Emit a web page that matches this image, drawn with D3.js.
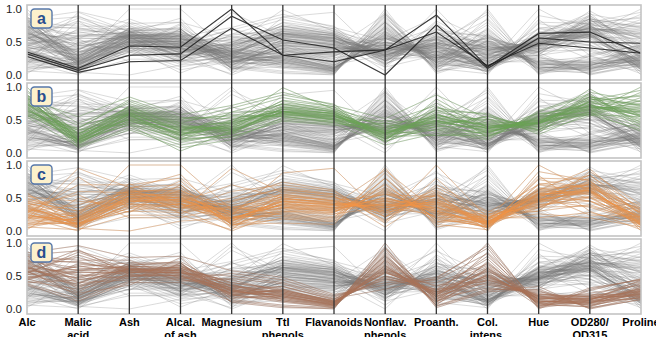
<!DOCTYPE html>
<html><head><meta charset="utf-8">
<script src="https://cdn.jsdelivr.net/npm/d3@7/dist/d3.min.js"></script>
<style>body{margin:0;background:#fff}svg{display:block}</style>
</head><body><svg id="c" width="656" height="337"></svg>
<script>
const dims = ["Alc","Malic acid","Ash","Alcal. of ash","Magnesium","Ttl phenols","Flavanoids","Nonflav. phenols","Proanth.","Col. intens.","Hue","OD280/ OD315","Proline"];
const dimLabels = [["Alc"],["Malic","acid"],["Ash"],["Alcal.","of ash"],["Magnesium"],["Ttl","phenols"],["Flavanoids"],["Nonflav.","phenols"],["Proanth."],["Col.","intens."],["Hue"],["OD280/","OD315"],["Proline"]];
const tickValues = [0, 0.5, 1];
const panelLetters = ["a","b","c","d"];

// class 1 (panel b, green) normalized values
const class1 = [
[0.84,0.19,0.57,0.26,0.62,0.63,0.57,0.28,0.59,0.37,0.46,0.97,0.56],
[0.57,0.21,0.42,0.03,0.33,0.58,0.51,0.25,0.27,0.26,0.46,0.78,0.55],
[0.56,0.32,0.70,0.41,0.34,0.63,0.61,0.32,0.76,0.38,0.45,0.70,0.65],
[0.88,0.24,0.61,0.32,0.46,0.99,0.66,0.21,0.56,0.51,0.31,0.80,0.86],
[0.58,0.37,0.81,0.54,0.52,0.63,0.50,0.49,0.44,0.27,0.46,0.61,0.33],
[0.83,0.20,0.58,0.24,0.46,0.79,0.64,0.40,0.49,0.46,0.46,0.58,0.84],
[0.89,0.22,0.58,0.18,0.29,0.52,0.46,0.32,0.49,0.34,0.44,0.85,0.72],
[0.80,0.28,0.67,0.33,0.55,0.56,0.46,0.34,0.26,0.32,0.47,0.85,0.73],
[1.00,0.18,0.43,0.16,0.30,0.63,0.56,0.30,0.49,0.33,0.49,0.58,0.55],
[0.74,0.12,0.49,0.26,0.30,0.69,0.59,0.17,0.45,0.51,0.43,0.83,0.55],
[0.71,0.15,0.55,0.30,0.42,0.62,0.52,0.26,0.40,0.40,0.50,0.72,0.62],
[0.65,0.24,0.60,0.36,0.38,0.70,0.62,0.30,0.55,0.35,0.52,0.68,0.70],
[0.75,0.30,0.65,0.42,0.36,0.58,0.55,0.36,0.52,0.42,0.41,0.66,0.48],
[0.68,0.16,0.52,0.28,0.44,0.66,0.60,0.22,0.60,0.30,0.56,0.76,0.64],
[0.78,0.26,0.62,0.38,0.40,0.72,0.64,0.28,0.48,0.44,0.40,0.74,0.78],
[0.62,0.22,0.66,0.44,0.33,0.60,0.54,0.38,0.42,0.28,0.55,0.64,0.45],
[0.73,0.42,0.58,0.35,0.48,0.64,0.58,0.30,0.58,0.40,0.38,0.72,0.60],
[0.86,0.14,0.54,0.22,0.36,0.76,0.68,0.24,0.62,0.48,0.44,0.80,0.95],
[0.70,0.20,0.72,0.48,0.58,0.55,0.48,0.42,0.38,0.32,0.48,0.62,0.40],
[0.66,0.27,0.50,0.30,0.32,0.68,0.60,0.20,0.66,0.36,0.60,0.70,0.58],
[0.76,0.18,0.60,0.34,0.50,0.74,0.62,0.26,0.70,0.45,0.42,0.78,0.68],
[0.81,0.23,0.64,0.40,0.37,0.61,0.55,0.34,0.46,0.38,0.50,0.66,0.75],
[0.60,0.17,0.46,0.20,0.28,0.57,0.50,0.28,0.35,0.25,0.58,0.74,0.50],
[0.72,0.34,0.68,0.45,0.45,0.66,0.57,0.44,0.54,0.43,0.36,0.64,0.62],
[0.69,0.13,0.56,0.28,0.40,0.80,0.70,0.18,0.82,0.39,0.47,0.82,0.71],
[0.79,0.21,0.52,0.31,0.35,0.63,0.53,0.31,0.43,0.55,0.39,0.69,0.67],
[0.64,0.29,0.63,0.37,0.47,0.59,0.52,0.36,0.50,0.31,0.53,0.73,0.52],
[0.85,0.16,0.59,0.27,0.43,0.70,0.63,0.23,0.57,0.41,0.45,0.77,0.88],
[0.74,0.25,0.47,0.39,0.31,0.67,0.59,0.29,0.53,0.37,0.49,0.71,0.57],
[0.67,0.19,0.61,0.33,0.39,0.62,0.56,0.33,0.47,0.34,0.51,0.67,0.63],
[0.92,0.45,0.75,0.50,0.68,0.88,0.74,0.15,0.68,0.58,0.35,0.62,1.00],
[0.54,0.10,0.38,0.12,0.25,0.48,0.42,0.45,0.33,0.22,0.62,0.88,0.38],
[0.82,0.55,0.85,0.58,0.72,0.92,0.72,0.52,0.88,0.52,0.33,0.56,0.80],
[0.60,0.35,0.44,0.22,0.24,0.50,0.44,0.12,0.30,0.20,0.64,0.90,0.42],
[0.95,0.28,0.70,0.46,0.62,0.84,0.70,0.38,0.64,0.60,0.28,0.60,0.92],
[0.77,0.08,0.35,0.08,0.20,0.54,0.48,0.22,0.36,0.30,0.54,0.86,0.46],
[0.63,0.38,0.78,0.52,0.56,0.74,0.66,0.46,0.72,0.24,0.60,0.58,0.36],
[0.87,0.30,0.50,0.20,0.50,0.60,0.50,0.18,0.40,0.56,0.34,0.92,0.78]
];
// class 2 (panel c, orange)
const class2 = [
[0.21,0.10,0.47,0.45,0.18,0.45,0.39,0.40,0.36,0.12,0.55,0.62,0.15],
[0.35,0.05,0.36,0.40,0.30,0.38,0.33,0.50,0.30,0.10,0.48,0.58,0.20],
[0.16,0.18,0.55,0.56,0.10,0.50,0.42,0.35,0.45,0.08,0.62,0.70,0.12],
[0.42,0.25,0.50,0.48,0.22,0.30,0.28,0.60,0.25,0.14,0.40,0.45,0.24],
[0.28,0.12,0.44,0.52,0.14,0.42,0.36,0.45,0.40,0.15,0.50,0.66,0.10],
[0.05,0.20,0.60,0.62,0.28,0.52,0.48,0.30,0.50,0.06,0.70,0.60,0.18],
[0.38,0.08,0.40,0.35,0.35,0.48,0.45,0.28,0.42,0.18,0.45,0.72,0.28],
[0.30,0.60,0.58,0.50,0.16,0.36,0.30,0.52,0.28,0.12,0.58,0.55,0.16],
[0.24,0.15,0.52,0.58,0.20,0.40,0.35,0.56,0.32,0.10,0.35,0.64,0.08],
[0.45,0.30,0.62,0.44,0.40,0.55,0.50,0.38,0.55,0.20,0.52,0.74,0.30],
[0.12,0.11,0.30,0.42,0.08,0.34,0.30,0.42,0.22,0.05,0.66,0.50,0.12],
[0.32,0.22,0.48,0.55,0.24,0.44,0.40,0.48,0.38,0.16,0.42,0.68,0.22],
[0.18,0.95,0.66,0.70,0.12,0.28,0.25,0.62,0.20,0.22,0.30,0.40,0.14],
[0.40,0.14,0.56,0.46,0.30,0.62,0.56,0.25,0.60,0.14,0.56,0.80,0.26],
[0.26,0.06,0.42,0.36,0.18,0.46,0.42,0.36,0.44,0.09,0.60,0.60,0.05],
[0.55,0.18,0.46,0.40,0.33,0.38,0.34,0.44,0.34,0.24,0.38,0.52,0.35],
[0.20,0.28,0.58,0.66,0.06,0.32,0.28,0.70,0.18,0.07,0.50,0.46,0.10],
[0.36,0.09,0.38,0.30,0.95,0.58,0.52,0.22,0.48,0.12,0.46,0.76,0.20],
[0.14,0.13,0.52,0.50,0.15,0.48,0.44,0.32,0.46,0.11,0.64,0.70,0.16],
[0.30,0.04,0.00,0.15,0.20,0.40,0.38,0.46,0.30,0.13,0.54,0.62,0.13],
[0.48,0.35,0.54,0.45,0.26,0.50,0.40,0.38,0.40,0.18,0.44,0.65,0.32],
[0.22,0.16,0.62,0.60,0.36,0.52,0.46,0.55,0.52,0.09,0.57,0.58,0.11],
[0.08,0.20,0.46,0.48,0.12,0.42,0.36,0.40,0.36,0.04,0.72,0.66,0.09],
[0.33,0.11,0.50,0.38,0.24,0.88,0.95,0.20,1.00,0.20,0.50,0.85,0.24],
[0.27,0.70,0.70,0.80,0.22,0.22,0.18,0.80,0.15,0.14,0.36,0.38,0.15],
[0.39,0.09,0.45,0.42,0.19,0.40,0.35,0.42,0.36,0.14,0.48,0.60,0.19],
[0.18,0.24,1.00,1.00,0.32,0.45,0.40,0.92,0.30,0.10,0.44,0.52,0.08],
[0.34,0.17,0.48,0.52,0.28,0.34,0.30,0.58,0.26,0.17,0.62,0.56,0.21],
[0.25,0.08,0.40,0.40,0.14,0.54,0.46,0.30,0.54,0.12,0.52,0.72,0.17],
[0.44,0.19,0.56,0.54,0.26,0.36,0.32,0.50,0.32,0.22,0.40,0.50,0.29],
[0.10,0.12,0.34,0.32,0.00,0.30,0.26,0.36,0.24,0.08,0.78,0.64,0.04],
[0.29,0.40,0.60,0.58,0.18,0.44,0.38,0.46,0.42,0.11,0.46,0.62,0.14],
[0.37,0.10,0.52,0.44,0.70,0.50,0.42,0.34,0.62,0.19,0.54,0.70,0.27],
[0.23,0.15,0.44,0.48,0.20,0.26,0.22,0.64,0.20,0.06,0.58,0.45,0.12],
[0.31,0.06,0.50,0.42,0.16,0.46,0.40,0.38,0.48,0.15,1.00,0.60,0.18],
[0.50,0.22,0.58,0.50,0.34,0.56,0.45,0.28,0.44,0.26,0.36,0.66,0.38],
[0.02,0.50,0.28,0.70,0.04,0.20,0.16,0.80,0.10,0.02,0.84,0.30,0.02],
[0.58,0.05,0.72,0.36,0.50,0.74,0.62,0.12,0.70,0.30,0.30,0.90,0.40],
[0.15,0.82,0.34,0.62,0.10,0.12,0.10,0.96,0.06,0.16,0.26,0.20,0.06],
[0.46,0.30,0.66,0.26,0.44,0.66,0.56,0.16,0.66,0.28,0.70,0.84,0.34],
[0.06,0.02,0.24,0.24,0.02,0.60,0.52,0.22,0.58,0.00,0.90,0.76,0.00],
[0.52,0.45,0.40,0.76,0.10,0.18,0.14,0.72,0.12,0.20,0.20,0.28,0.10],
[0.20,0.00,0.56,0.34,0.60,0.70,0.60,0.14,0.80,0.10,0.62,0.94,0.30],
[0.38,0.55,0.20,0.20,0.38,0.24,0.20,0.88,0.14,0.24,0.56,0.24,0.22],
[0.11,0.26,0.64,0.86,0.08,0.36,0.32,0.66,0.28,0.05,0.48,0.36,0.12],
[0.43,0.12,0.30,0.28,0.46,0.64,0.54,0.06,0.56,0.06,0.80,0.78,0.08]
];
// class 3 (panel d, brown)
const class3 = [
[0.71,0.72,0.55,0.56,0.27,0.20,0.06,0.74,0.16,0.52,0.10,0.13,0.24],
[0.59,0.47,0.60,0.58,0.31,0.24,0.10,0.62,0.22,0.48,0.16,0.16,0.28],
[0.48,0.58,0.65,0.62,0.35,0.18,0.08,0.80,0.18,0.62,0.12,0.10,0.22],
[0.65,0.36,0.52,0.50,0.24,0.28,0.12,0.55,0.26,0.44,0.22,0.20,0.30],
[0.55,0.82,0.58,0.64,0.38,0.14,0.05,0.66,0.14,0.70,0.08,0.08,0.35],
[0.80,0.40,0.62,0.52,0.20,0.30,0.10,0.58,0.28,0.58,0.18,0.14,0.40],
[0.42,0.30,0.48,0.60,0.28,0.22,0.08,0.86,0.20,0.40,0.20,0.18,0.20],
[0.62,0.55,0.56,0.55,0.44,0.26,0.11,0.50,0.30,0.76,0.06,0.12,0.26],
[0.52,0.64,0.70,0.70,0.18,0.16,0.06,0.70,0.10,0.52,0.14,0.06,0.18],
[0.70,0.45,0.50,0.48,0.32,0.34,0.14,0.60,0.34,0.66,0.10,0.20,0.42],
[0.58,0.20,0.54,0.66,0.22,0.10,0.03,0.92,0.12,0.36,0.24,0.10,0.24],
[0.45,0.68,0.62,0.58,0.36,0.24,0.09,0.56,0.24,0.50,0.16,0.16,0.22],
[0.66,0.52,0.46,0.46,0.26,0.20,0.07,0.76,0.18,0.86,0.12,0.09,0.32],
[0.74,0.62,0.60,0.62,0.40,0.28,0.12,0.48,0.26,0.56,0.04,0.14,0.30],
[0.50,0.38,0.66,0.72,0.30,0.12,0.04,0.82,0.08,0.44,0.20,0.05,0.20],
[0.60,0.90,0.52,0.50,0.24,0.22,0.09,0.64,0.22,0.60,0.10,0.15,0.27],
[0.68,0.50,0.58,0.54,0.50,0.40,0.18,0.44,0.40,0.68,0.14,0.24,0.36],
[0.40,0.44,0.56,0.60,0.20,0.18,0.06,0.72,0.16,0.32,0.26,0.12,0.16],
[0.56,0.60,0.64,0.66,0.34,0.26,0.10,0.58,0.20,1.00,0.02,0.11,0.28],
[0.63,0.34,0.50,0.52,0.28,0.16,0.05,0.68,0.12,0.46,0.18,0.08,0.25],
[0.76,0.70,0.60,0.56,0.22,0.24,0.08,0.62,0.24,0.64,0.08,0.13,0.44],
[0.47,0.56,0.54,0.64,0.40,0.30,0.12,0.50,0.30,0.38,0.22,0.18,0.19],
[0.57,0.26,0.62,0.58,0.16,0.20,0.07,0.78,0.14,0.54,0.12,0.07,0.23],
[0.69,0.78,0.56,0.50,0.30,0.14,0.04,0.66,0.10,0.72,0.06,0.04,0.33],
[0.53,0.48,0.68,0.68,0.26,0.34,0.15,0.54,0.36,0.42,0.18,0.22,0.21],
[0.61,0.40,0.44,0.44,0.36,0.22,0.10,0.60,0.22,0.58,0.14,0.15,0.29],
[0.73,0.58,0.58,0.60,0.24,0.28,0.13,0.46,0.28,0.80,0.10,0.17,0.38],
[0.44,0.66,0.50,0.56,0.32,0.18,0.06,0.74,0.18,0.48,0.20,0.10,0.17],
[0.64,0.32,0.64,0.62,0.28,0.26,0.11,0.56,0.26,0.50,0.16,0.19,0.26],
[0.54,0.86,0.60,0.54,0.22,0.12,0.02,0.84,0.06,0.62,0.08,0.03,0.27],
[0.85,0.96,0.78,0.80,0.58,0.48,0.22,0.36,0.48,0.92,0.00,0.30,0.45],
[0.36,0.12,0.40,0.40,0.12,0.04,0.00,1.00,0.04,0.28,0.34,0.00,0.15],
[0.80,0.74,0.74,0.46,0.54,0.44,0.20,0.40,0.44,0.84,0.02,0.28,0.46],
[0.38,0.16,0.42,0.78,0.14,0.06,0.02,0.94,0.02,0.26,0.30,0.02,0.14],
[0.82,0.88,0.66,0.42,0.46,0.38,0.16,0.30,0.46,0.96,0.04,0.32,0.44],
[0.46,0.24,0.36,0.70,0.10,0.02,0.01,0.90,0.05,0.30,0.28,0.01,0.18]
];
// highlighted samples in panel a (black)
const highlightA = [
[0.35,0.10,0.44,0.42,1.00,0.30,0.35,0.38,0.91,0.12,0.63,0.65,0.33],
[0.32,0.07,0.30,0.32,0.89,0.53,0.41,0.00,0.76,0.10,0.56,0.50,0.48],
[0.28,0.04,0.20,0.22,0.71,0.30,0.20,0.38,0.65,0.14,0.48,0.41,0.33]
];

const allRows = class1.concat(class2, class3, highlightA);
const panels = [
  {rows: highlightA, color: "#1e1e1e", opacity: 0.85, width: 1.1},
  {rows: class1, color: "#6aa553", opacity: 0.4, width: 0.9},
  {rows: class2, color: "#f29548", opacity: 0.42, width: 0.9},
  {rows: class3, color: "#ab7256", opacity: 0.45, width: 0.9}
];

const svg = d3.select("#c");
const x = d3.scalePoint().domain(dims).range([27, 641]);
const pitch = 78;

panels.forEach((p, k) => {
  const top = 5 + k * pitch;
  const y = d3.scaleLinear().domain([0, 1]).range([75 + k * pitch, 9 + k * pitch]);
  const g = svg.append("g");
  const line = d3.line().x((d, i) => x(dims[i])).y(d => y(d));
  g.append("g").selectAll("path").data(allRows).join("path")
    .attr("d", line).attr("fill", "none")
    .attr("stroke", "#7a7a7a").attr("stroke-opacity", 0.3).attr("stroke-width", 0.9);
  g.append("g").selectAll("path").data(p.rows).join("path")
    .attr("d", line).attr("fill", "none")
    .attr("stroke", p.color).attr("stroke-opacity", p.opacity).attr("stroke-width", p.width);
  g.append("rect").attr("x", 27).attr("y", top).attr("width", 614).attr("height", 75)
    .attr("fill", "none").attr("stroke", "#c4c4c4").attr("stroke-width", 1.6);
  const ax = g.append("g").attr("transform", "translate(27,0)")
    .call(d3.axisLeft(y).tickValues(tickValues).tickFormat(d3.format(".1f")).tickSize(0).tickPadding(5));
  ax.select(".domain").remove();
  ax.selectAll("text").attr("font-family", "Liberation Sans, Arial, sans-serif").attr("font-size", 11.5).attr("fill", "#222");
  const b = g.append("g").attr("transform", `translate(31,${top + 4})`);
  b.append("rect").attr("width", 21).attr("height", 19).attr("rx", 3.5)
    .attr("fill", "#fdf1cc").attr("stroke", "#5577aa").attr("stroke-width", 1.4);
  b.append("text").attr("x", 10.5).attr("y", 14.5).attr("text-anchor", "middle")
    .attr("font-family", "Liberation Sans, Arial, sans-serif").attr("font-weight", "bold")
    .attr("font-size", 16).attr("fill", "#2a4f8f").text(panelLetters[k]);
});

// vertical axes through all panels
svg.append("g").selectAll("line").data(dims.slice(1, -1)).join("line")
  .attr("x1", d => x(d)).attr("x2", d => x(d)).attr("y1", 5).attr("y2", 314)
  .attr("stroke", "#333").attr("stroke-width", 1.3);

// axis labels
const lab = svg.append("g").attr("font-family", "Liberation Sans, Arial, sans-serif")
  .attr("font-weight", "bold").attr("font-size", 11).attr("fill", "#000").attr("text-anchor", "middle");
dims.forEach((d, i) => {
  const t = lab.append("text").attr("x", x(d)).attr("y", 326);
  dimLabels[i].forEach((s, j) => t.append("tspan").attr("x", x(d)).attr("dy", j === 0 ? 0 : 13).text(s));
});
</script></body></html>
